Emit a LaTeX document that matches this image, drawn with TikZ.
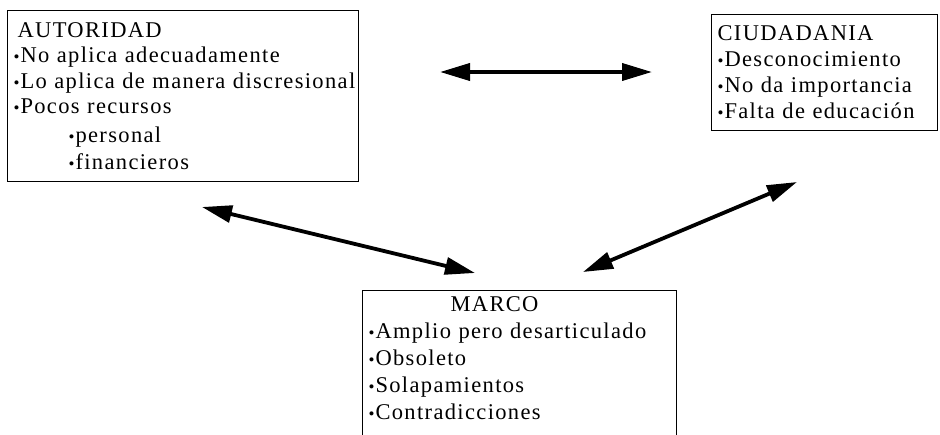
\documentclass[tikz,border=0pt]{standalone}
\usepackage{fontspec}
\setmainfont{Liberation Serif}[LetterSpace=6]
\usetikzlibrary{arrows.meta}
\newcommand{\bul}{{\fontsize{17}{17}\selectfont •}\hspace{1pt}}

\begin{document}
\begin{tikzpicture}[
  x=1pt, y=-1pt,
  caja/.style={rectangle, draw, line width=1.2pt, anchor=north west, align=left, inner xsep=6pt, inner ysep=4pt, font=\fontsize{22.5}{25.5}\selectfont},
  flecha/.style={<->, >={Triangle[length=30pt,width=17pt]}, line width=3.8pt}
]
\useasboundingbox (0,0) rectangle (940,434);
\clip (0,0) rectangle (940,434);

\node[caja, minimum width=351pt, minimum height=171pt, text width=339pt] (autoridad) at (7,10)
  {\hspace*{4pt}AUTORIDAD\\ \bul No aplica adecuadamente\\ \bul Lo aplica de manera discresional\\ \bul Pocos recursos\\[3pt]
   \hspace*{55pt}\bul personal\\[2pt] \hspace*{55pt}\bul financieros};
\node[caja, minimum width=226pt, minimum height=116pt, text width=214pt, font=\fontsize{22.5}{26}\selectfont] (ciudadania) at (711,14)
  {CIUDADANIA\\ \bul Desconocimiento\\ \bul No da importancia\\ \bul Falta de educación};
\node[caja, text width=302pt, inner ysep=6pt, font=\fontsize{22.5}{27}\selectfont] (marco) at (362,290)
  {\hspace*{82pt}MARCO\\ \bul Amplio pero desarticulado\\ \bul Obsoleto\\ \bul Solapamientos\\ \bul Contradicciones\\[10pt] \mbox{}};

\coordinate (autCiu) at (440,72);
\coordinate (ciuAut) at (652,72);
\coordinate (autMar) at (202,207);
\coordinate (marAut) at (475,273);
\coordinate (ciuMar) at (797,182);
\coordinate (marCiu) at (583,272);

\draw[flecha] (autCiu) -- (ciuAut);
\draw[flecha] (autMar) -- (marAut);
\draw[flecha] (ciuMar) -- (marCiu);
\end{tikzpicture}
\end{document}
